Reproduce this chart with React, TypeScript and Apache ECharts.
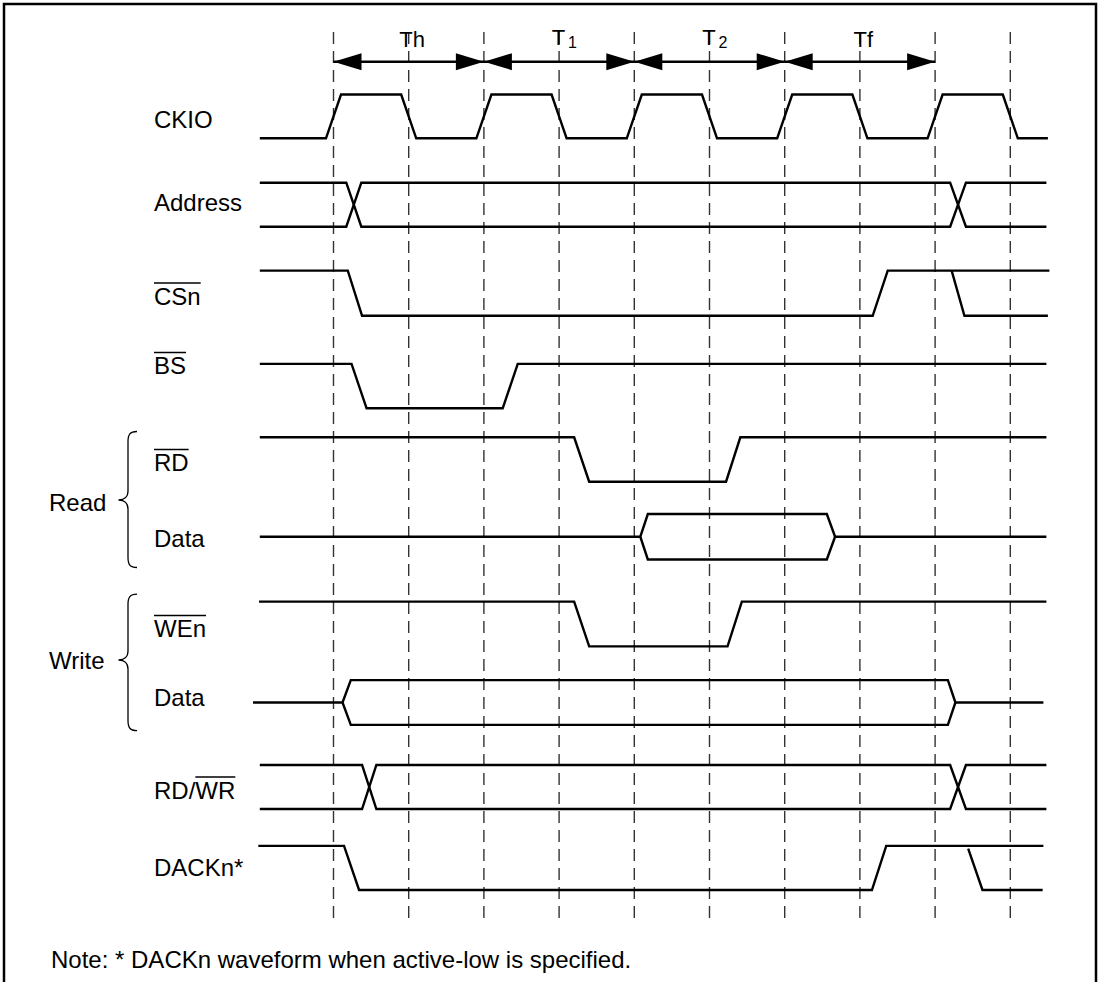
import React, { useEffect, useRef } from "react";
import * as echarts from "echarts";

// ---------------- DATA ----------------
// time axis: CKIO half-cycles, 0 = first dashed line; levels: 1 = high, 0 = low, 0.5 = mid (bus idle)
const halfCycleMarks = [0, 1, 2, 3, 4, 5, 6, 7, 8, 9];
const periodNames = ["Th", "T1", "T2", "Tf"];
const periodFrom = [0, 2, 4, 6];
const periodTo = [2, 4, 6, 8];

const signalNames = ["CKIO", "Address", "CSn", "BS", "RD", "Data", "WEn", "Data", "RD/WR", "DACKn*"];
const overlinedPart = ["", "", "CSn", "BS", "RD", "", "WEn", "", "WR", ""];
const groupNames = ["Read", "Write"];
const noteText = "Note: * DACKn waveform when active-low is specified.";

const ckioWave = [
  [-0.98, 0], [-0.1, 0], [0.1, 1], [0.9, 1], [1.1, 0], [1.9, 0], [2.1, 1], [2.9, 1], [3.1, 0],
  [3.9, 0], [4.1, 1], [4.9, 1], [5.1, 0], [5.9, 0], [6.1, 1], [6.9, 1], [7.1, 0], [7.9, 0],
  [8.1, 1], [8.9, 1], [9.1, 0], [9.5, 0],
];
const addressUpper = [[-0.98, 1], [0.17, 1], [0.37, 0], [8.2, 0], [8.41, 1], [9.48, 1]];
const addressLower = [[-0.98, 0], [0.17, 0], [0.37, 1], [8.2, 1], [8.41, 0], [9.48, 0]];
const csnWave = [[-0.98, 1], [0.19, 1], [0.38, 0], [7.17, 0], [7.37, 1], [9.52, 1]];
const csnBranch = [[8.22, 1], [8.39, 0], [9.5, 0]];
const bsWave = [[-0.98, 1], [0.24, 1], [0.44, 0], [2.25, 0], [2.45, 1], [9.48, 1]];
const rdWave = [[-0.98, 1], [3.2, 1], [3.4, 0], [5.22, 0], [5.41, 1], [9.48, 1]];
const readDataUpper = [[-0.98, 0.5], [4.08, 0.5], [4.18, 1], [6.56, 1], [6.67, 0.5], [9.48, 0.5]];
const readDataLower = [[4.08, 0.5], [4.18, 0], [6.56, 0], [6.67, 0.5]];
const wenWave = [[-0.99, 1], [3.2, 1], [3.4, 0], [5.24, 0], [5.43, 1], [9.48, 1]];
const writeDataUpper = [[-1.07, 0.5], [0.12, 0.5], [0.23, 1], [8.17, 1], [8.27, 0.5], [9.44, 0.5]];
const writeDataLower = [[0.12, 0.5], [0.23, 0], [8.17, 0], [8.27, 0.5]];
const rdwrUpper = [[-0.98, 1], [0.38, 1], [0.57, 0], [8.2, 0], [8.41, 1], [9.48, 1]];
const rdwrLower = [[-0.98, 0], [0.38, 0], [0.57, 1], [8.2, 1], [8.41, 0], [9.48, 0]];
const dackWave = [[-1.0, 1], [0.14, 1], [0.34, 0], [7.16, 0], [7.35, 1], [9.44, 1]];
const dackBranch = [[8.44, 0.94], [8.63, 0], [9.43, 0]];

const signalWaves = [
  [ckioWave],
  [addressUpper, addressLower],
  [csnWave, csnBranch],
  [bsWave],
  [rdWave],
  [readDataUpper, readDataLower],
  [wenWave],
  [writeDataUpper, writeDataLower],
  [rdwrUpper, rdwrLower],
  [dackWave, dackBranch],
];

// ---------------- LAYOUT ----------------
const W = 1100;
const H = 982;
const X0_PX = 333.5;
const UNIT_PX = 75.2;
const X_MIN = -X0_PX / UNIT_PX;
const X_MAX = (W - X0_PX) / UNIT_PX;

const rowTop = [94.5, 182.7, 270.6, 363.9, 437.3, 514, 601.6, 680.1, 765, 845.9];
const rowBottom = [138.3, 226.7, 315.8, 408.3, 481.7, 559.5, 646.4, 724.9, 809, 890];
const labelY = [119.5, 202.5, 296, 365.5, 462.5, 538, 628.5, 697, 790, 867];
const LABEL_X = 154;
const GROUP_X = 49;
const groupY = [502, 660.5];
const DASH_TOP = 32;
const DASH_BOTTOM = 921;
const ARROW_Y = 61.7;
const NOTE_X = 51;
const NOTE_Y = 959;
const FONT_FAMILY = '"Liberation Sans", Arial, Helvetica, sans-serif';
const LABEL_SIZE = 24;

function bracePath(t: number, m: number, b: number) {
  const xv = 128;
  const xt = 118.5;
  const xe = 137;
  return (
    `M${xe},${t} C${xv + 2},${t} ${xv},${t + 3} ${xv},${t + 10} ` +
    `L${xv},${m - 9} C${xv},${m - 3} ${xv - 4},${m} ${xt},${m} ` +
    `C${xv - 4},${m} ${xv},${m + 3} ${xv},${m + 9} ` +
    `L${xv},${b - 10} C${xv},${b - 3} ${xv + 2},${b} ${xe},${b}`
  );
}
echarts.graphic.registerShape("braceRead", echarts.graphic.extendPath(bracePath(431.5, 500, 567.5), {}));
echarts.graphic.registerShape("braceWrite", echarts.graphic.extendPath(bracePath(594.2, 660, 730.6), {}));

function textWidth(s: string, size: number) {
  const c = document.createElement("canvas").getContext("2d");
  if (!c) return s.length * size * 0.55;
  c.font = `${size}px ${FONT_FAMILY}`;
  return c.measureText(s).width;
}

function txt(text: string, x: number, y: number, size: number, align = "left") {
  return {
    type: "text",
    x,
    y,
    silent: true,
    style: {
      text,
      fill: "#000",
      font: `${size}px ${FONT_FAMILY}`,
      fontSize: size,
      fontFamily: FONT_FAMILY,
      textAlign: align,
      align,
      textVerticalAlign: "middle",
      verticalAlign: "middle",
    },
  };
}

export default function App() {
  const ref = useRef<HTMLDivElement>(null);
  useEffect(() => {
    if (!ref.current) return;
    const chart = echarts.init(ref.current, null, { renderer: "svg" });

    const grids: any[] = [{ left: 0, top: 0, width: W, height: H }];
    const xAxes: any[] = [{ type: "value", gridIndex: 0, min: X_MIN, max: X_MAX, show: false }];
    const yAxes: any[] = [{ type: "value", gridIndex: 0, min: 0, max: H, inverse: true, show: false }];
    signalNames.forEach((_, i) => {
      grids.push({ left: 0, width: W, top: rowTop[i], height: rowBottom[i] - rowTop[i] });
      xAxes.push({ type: "value", gridIndex: i + 1, min: X_MIN, max: X_MAX, show: false });
      yAxes.push({ type: "value", gridIndex: i + 1, min: 0, max: 1, show: false });
    });

    const series: any[] = [];
    signalWaves.forEach((polys, i) => {
      polys.forEach((poly) => {
        series.push({
          type: "line",
          xAxisIndex: i + 1,
          yAxisIndex: i + 1,
          data: poly,
          symbol: "none",
          showSymbol: false,
          clip: false,
          silent: true,
          lineStyle: { color: "#000", width: 2.4, join: "miter", cap: "butt" },
        });
      });
    });

    // dashed half-cycle lines
    series.push({
      type: "custom",
      xAxisIndex: 0,
      yAxisIndex: 0,
      silent: true,
      clip: false,
      data: halfCycleMarks.map((m) => [m, 0]),
      renderItem: (_p: any, api: any) => {
        const x = api.value(0);
        const a = api.coord([x, DASH_TOP]);
        const b = api.coord([x, DASH_BOTTOM]);
        return {
          type: "line",
          shape: { x1: a[0], y1: a[1], x2: b[0], y2: b[1] },
          style: { stroke: "#333", lineWidth: 1.4, lineDash: [12, 7] },
        };
      },
    });

    // period arrows and labels
    series.push({
      type: "custom",
      xAxisIndex: 0,
      yAxisIndex: 0,
      silent: true,
      clip: false,
      data: periodNames.map((_, i) => [periodFrom[i], periodTo[i], i]),
      renderItem: (_p: any, api: any) => {
        const i = api.value(2);
        const a = api.coord([api.value(0), ARROW_Y]);
        const b = api.coord([api.value(1), ARROW_Y]);
        const y = a[1];
        const L = 28;
        const hw = 8.5;
        const mid = (a[0] + b[0]) / 2;
        const name = periodNames[i];
        const children: any[] = [
          { type: "line", shape: { x1: a[0], y1: y, x2: b[0], y2: y }, style: { stroke: "#000", lineWidth: 2.4 } },
          { type: "polygon", shape: { points: [[a[0], y], [a[0] + L, y - hw], [a[0] + L, y + hw]] }, style: { fill: "#000" } },
          { type: "polygon", shape: { points: [[b[0], y], [b[0] - L, y - hw], [b[0] - L, y + hw]] }, style: { fill: "#000" } },
        ];
        if (/\d$/.test(name)) {
          children.push(txt(name.slice(0, 1), mid - 7.3, api.coord([0, 37])[1], 22, "left"));
          children.push(txt(name.slice(1), mid + 9, api.coord([0, 42.5])[1], 16, "left"));
        } else {
          children.push(txt(name, mid + 3.5, api.coord([0, 39.2])[1], 22, "center"));
        }
        return { type: "group", children };
      },
    });

    const graphics: any[] = [
      { type: "rect", shape: { x: 4, y: 4, width: 1092, height: 1200 }, style: { fill: "none", stroke: "#000", lineWidth: 2.5 }, silent: true },
    ];
    signalNames.forEach((name, i) => {
      graphics.push(txt(name, LABEL_X, labelY[i], LABEL_SIZE));
      const bar = overlinedPart[i];
      if (bar) {
        const idx = name.indexOf(bar);
        const x1 = LABEL_X + textWidth(name.slice(0, idx), LABEL_SIZE);
        const x2 = x1 + textWidth(bar, LABEL_SIZE);
        const yy = labelY[i] - 13;
        graphics.push({
          type: "line",
          silent: true,
          shape: { x1, y1: yy, x2, y2: yy },
          style: { stroke: "#000", lineWidth: 1.4 },
        });
      }
    });
    groupNames.forEach((g, i) => graphics.push(txt(g, GROUP_X, groupY[i], LABEL_SIZE)));
    graphics.push({ type: "braceRead", silent: true, style: { fill: "none", stroke: "#000", lineWidth: 1.3 } });
    graphics.push({ type: "braceWrite", silent: true, style: { fill: "none", stroke: "#000", lineWidth: 1.3 } });
    graphics.push(txt(noteText, NOTE_X, NOTE_Y, LABEL_SIZE));

    chart.setOption({
      animation: false,
      backgroundColor: "#fff",
      grid: grids,
      xAxis: xAxes,
      yAxis: yAxes,
      series,
      graphic: graphics,
    });
    return () => chart.dispose();
  }, []);
  return (
    <div
      ref={ref}
      style={{ position: "fixed", left: 0, top: 0, width: W, height: H, background: "#fff" }}
    />
  );
}
